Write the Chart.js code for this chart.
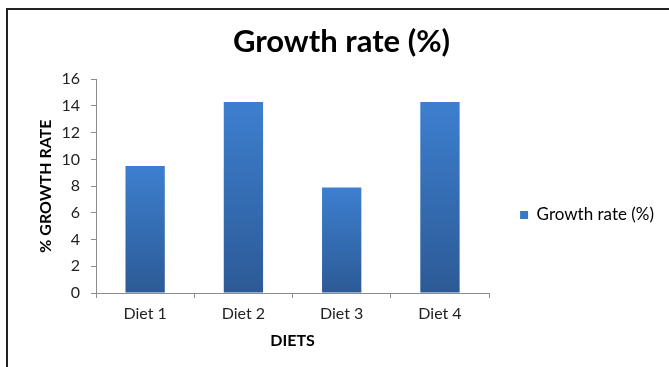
<!DOCTYPE html>
<html>
<head>
<meta charset="utf-8">
<script src="https://cdn.jsdelivr.net/npm/chart.js@4"></script>
<style>
  html, body { margin: 0; padding: 0; background: #fff; }
  #wrap { position: relative; width: 669px; height: 367px; overflow: hidden; }
  #wrap canvas { position: absolute; left: 0; top: 0; }
  #frame {
    position: absolute; left: 6px; top: 8px; width: 720px; height: 420px;
    border-left: 2px solid #222; border-top: 2px solid #222; pointer-events: none;
  }
</style>
</head>
<body>
<div id="wrap">
  <canvas id="chart" width="669" height="367"></canvas>
  <div id="frame"></div>
</div>
<script>
// Growth rate per diet
const categories = ['Diet 1', 'Diet 2', 'Diet 3', 'Diet 4'];
const growthRate = [9.5, 14.3, 7.9, 14.3];
const seriesName = 'Growth rate (%)';
const yTickValues = [0, 2, 4, 6, 8, 10, 12, 14, 16];

const FONT = 'Lato, "Open Sans", sans-serif';
const AXIS_GREY = '#8c8c8c';

// vertical gradient for each bar, light at the top, darker at the base
function barFill(ctx) {
  const chart = ctx.chart;
  const yScale = chart.scales.y;
  if (!chart.chartArea || !yScale || ctx.raw === undefined) return '#3a78c4';
  const top = yScale.getPixelForValue(ctx.raw);
  const base = yScale.getPixelForValue(0);
  if (!isFinite(top) || !isFinite(base) || top === base) return '#3a78c4';
  const g = chart.ctx.createLinearGradient(0, top, 0, base);
  g.addColorStop(0, '#3d7fcf');
  g.addColorStop(1, '#2c5a96');
  return g;
}

// moves the side legend down a little from its centred position
const legendOffset = {
  id: 'legendOffset',
  afterLayout(chart, args, opts) {
    const lg = chart.legend;
    if (lg) { lg.top += opts.dy; lg.bottom += opts.dy; }
  }
};

new Chart(document.getElementById('chart'), {
  type: 'bar',
  data: {
    labels: categories,
    datasets: [{
      label: seriesName,
      data: growthRate,
      backgroundColor: barFill,
      borderWidth: 0,
      barPercentage: 0.4,
      categoryPercentage: 1.0
    }]
  },
  plugins: [legendOffset],
  options: {
    responsive: false,
    devicePixelRatio: 1,
    animation: false,
    layout: { padding: { top: 12, left: 19, right: 5, bottom: 17 } },
    plugins: {
      legendOffset: { dy: 34 },
      title: {
        display: true,
        text: seriesName,
        color: '#000',
        font: { family: FONT, size: 31, weight: 'bold' },
        padding: { top: 11, bottom: 19 }
      },
      legend: {
        display: true,
        position: 'right',
        maxWidth: 220,
        labels: {
          color: '#222',
          font: { family: FONT, size: 17 },
          boxWidth: 8,
          boxHeight: 8,
          padding: 31,
          generateLabels(chart) {
            return [{
              text: seriesName,
              fillStyle: '#3a78c4',
              strokeStyle: '#3a78c4',
              lineWidth: 0,
              datasetIndex: 0
            }];
          }
        }
      },
      tooltip: { enabled: false }
    },
    scales: {
      x: {
        offset: true,
        afterFit(scale) { scale.height = 57; },
        grid: {
          display: true,
          offset: true,
          drawOnChartArea: false,
          drawTicks: true,
          tickLength: 5,
          color: AXIS_GREY
        },
        border: { display: true, color: AXIS_GREY, width: 1 },
        ticks: {
          color: '#222',
          font: { family: FONT, size: 16 },
          padding: 6
        },
        title: {
          display: true,
          text: 'DIETS',
          color: '#000',
          font: { family: FONT, size: 16, weight: 'bold' },
          padding: { top: 7, bottom: 0 }
        }
      },
      y: {
        min: 0,
        max: 16,
        afterFit(scale) { scale.width = 77; },
        afterBuildTicks(scale) {
          scale.ticks = yTickValues.map(v => ({ value: v }));
        },
        grid: {
          display: true,
          drawOnChartArea: false,
          drawTicks: true,
          tickLength: 5,
          color: AXIS_GREY
        },
        border: { display: true, color: AXIS_GREY, width: 1 },
        ticks: {
          color: '#222',
          font: { family: FONT, size: 16 },
          padding: 11
        },
        title: {
          display: true,
          text: '% GROWTH RATE',
          color: '#000',
          font: { family: FONT, size: 16, weight: 'bold' },
          padding: { top: 17, bottom: 8 }
        }
      }
    }
  }
});
</script>
</body>
</html>
